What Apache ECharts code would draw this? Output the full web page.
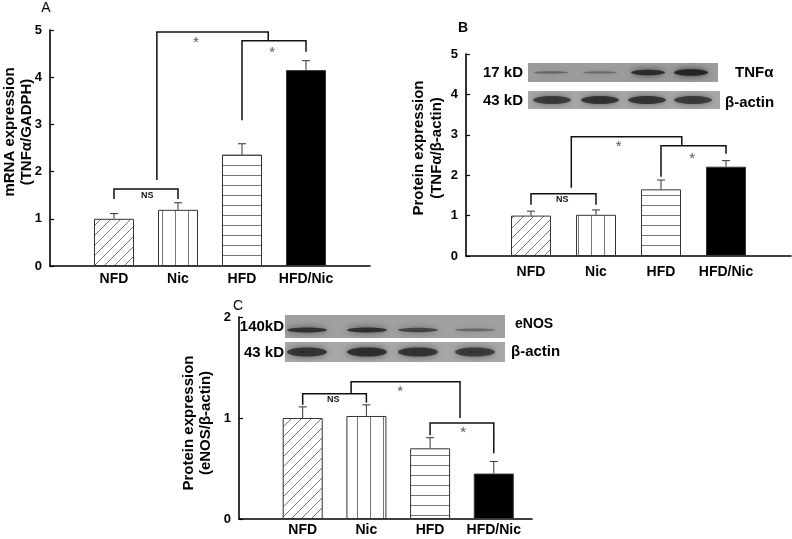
<!DOCTYPE html>
<html>
<head>
<meta charset="utf-8">
<script src="https://cdn.jsdelivr.net/npm/echarts@6/dist/echarts.min.js"></script>
<style>
  html, body { margin: 0; padding: 0; background: #fff; }
  #main { width: 792px; height: 539px; }
</style>
</head>
<body>
<div id="main"></div>
<script>
// groups and values
const groups = ["NFD", "Nic", "HFD", "HFD/Nic"];
const groupPos = [1, 2, 3, 4];

const mrnaTnf = [1.0, 1.19, 2.36, 4.15];
const mrnaTnfErr = [0.11, 0.15, 0.23, 0.2];
const protTnf = [1.0, 1.02, 1.65, 2.21];
const protTnfErr = [0.11, 0.12, 0.23, 0.15];
const protEnos = [1.0, 1.02, 0.7, 0.45];
const protEnosErr = [0.11, 0.11, 0.105, 0.12];

// significance brackets: [xLeft, yLeftEnd, xRight, yRightEnd, yTop]
const bracketsA = [[1, 1.42, 2, 1.42, 1.63], [1.67, 1.82, 3.41, 4.77, 4.96], [3, 3.09, 4, 4.54, 4.77]];
const bracketsB = [[1, 1.27, 2, 1.27, 1.54], [1.62, 1.69, 3.32, 2.73, 2.95], [3, 1.96, 4, 2.53, 2.73]];
const bracketsC = [[1, 1.13, 2, 1.15, 1.24], [1.76, 1.24, 3.47, 1.0, 1.36], [3, 0.83, 4, 0.65, 0.95]];
const notesA = [[1.52, 1.5], [2.28, 4.73], [3.47, 4.52]];
const notesB = [[1.48, 1.39], [2.35, 2.7], [3.48, 2.41]];
const notesC = [[1.48, 1.18], [2.53, 1.26], [3.52, 0.85]];
const noteText = ["NS", "*", "*"];

// western blot band strength per lane (0..1)
const blotTnf = [0.4, 0.35, 0.85, 0.9];
const blotActinB = [0.7, 0.75, 0.75, 0.7];
const blotEnos = [0.8, 0.8, 0.65, 0.4];
const blotActinC = [0.75, 0.8, 0.75, 0.7];

const FONT = "Liberation Sans, Arial, sans-serif";

function hatch(kind) {
  const c = document.createElement("canvas");
  const ctx = c.getContext("2d");
  if (kind === "diag") { c.width = 10; c.height = 10; }
  if (kind === "vert") { c.width = 13; c.height = 4; }
  if (kind === "horz") { c.width = 4; c.height = 10; }
  ctx.fillStyle = "#fff";
  ctx.fillRect(0, 0, c.width, c.height);
  ctx.strokeStyle = "#666";
  ctx.lineWidth = 0.9;
  ctx.beginPath();
  if (kind === "diag") {
    ctx.moveTo(0, 10); ctx.lineTo(10, 0);
    ctx.moveTo(-5, 5); ctx.lineTo(5, -5);
    ctx.moveTo(5, 15); ctx.lineTo(15, 5);
  } else if (kind === "vert") {
    ctx.moveTo(6.5, 0); ctx.lineTo(6.5, 4);
  } else {
    ctx.moveTo(0, 5.5); ctx.lineTo(4, 5.5);
  }
  ctx.stroke();
  return { image: c, repeat: "repeat" };
}
const fills = [hatch("diag"), hatch("vert"), hatch("horz"), "#000"];

function xAxisFor(idx, max, margin) {
  return {
    type: "value", gridIndex: idx, min: 0, max: max,
    splitLine: { show: false },
    axisTick: { show: false },
    axisLine: { show: true, onZero: false, lineStyle: { color: "#000", width: 1.6 } },
    axisLabel: {
      customValues: groupPos,
      formatter: v => groups[Math.round(v) - 1] || "",
      color: "#000", fontWeight: "bold", fontSize: 14, fontFamily: FONT, margin: margin
    }
  };
}
function yAxisFor(idx, max) {
  return {
    type: "value", gridIndex: idx, min: 0, max: max, interval: 1,
    splitLine: { show: false },
    axisLine: { show: true, lineStyle: { color: "#000", width: 1.6 } },
    axisTick: { show: true, inside: true, length: 4, lineStyle: { color: "#000", width: 1.2 } },
    axisLabel: { color: "#000", fontWeight: "bold", fontSize: 13, fontFamily: FONT, margin: 8 }
  };
}

function panelSeries(idx, vals, errs, brackets, notes) {
  return [
    {
      type: "bar", xAxisIndex: idx, yAxisIndex: idx, barWidth: 40, z: 2,
      data: vals.map((v, i) => ({ value: [groupPos[i], v], itemStyle: { color: fills[i] } })),
      itemStyle: { borderColor: "#333", borderWidth: 1 }
    },
    {
      type: "custom", xAxisIndex: idx, yAxisIndex: idx, z: 3,
      data: vals.map((v, i) => [groupPos[i], v, errs[i]]),
      renderItem: (params, api) => {
        const b = api.coord([api.value(0), api.value(1)]);
        const t = api.coord([api.value(0), api.value(1) + api.value(2)]);
        const st = { stroke: "#333", lineWidth: 1 };
        return {
          type: "group", children: [
            { type: "line", shape: { x1: b[0], y1: b[1], x2: t[0], y2: t[1] }, style: st },
            { type: "line", shape: { x1: t[0] - 4, y1: t[1], x2: t[0] + 4, y2: t[1] }, style: st }
          ]
        };
      }
    },
    {
      type: "custom", xAxisIndex: idx, yAxisIndex: idx, z: 4,
      data: brackets,
      renderItem: (params, api) => {
        const pts = [
          api.coord([api.value(0), api.value(1)]),
          api.coord([api.value(0), api.value(4)]),
          api.coord([api.value(2), api.value(4)]),
          api.coord([api.value(2), api.value(3)])
        ];
        return { type: "polyline", shape: { points: pts }, style: { stroke: "#111", lineWidth: 1.5, fill: null } };
      }
    },
    {
      type: "custom", xAxisIndex: idx, yAxisIndex: idx, z: 5,
      data: notes,
      renderItem: (params, api) => {
        const p = api.coord([api.value(0), api.value(1)]);
        const txt = noteText[params.dataIndex];
        const ns = txt === "NS";
        return {
          type: "text", x: p[0], y: p[1],
          style: {
            text: txt, align: "center", verticalAlign: "middle",
            fill: ns ? "#111" : "#555",
            font: (ns ? "bold 9px " : "15px ") + FONT
          }
        };
      }
    }
  ];
}

function blot(x, y, w, h, bg, cx, cy, rx, ry, strength) {
  const kids = [{ type: "rect", shape: { x: x, y: y, width: w, height: h }, style: { fill: bg } }];
  strength.forEach((s, i) => {
    kids.push({
      type: "ellipse",
      shape: { cx: cx[i], cy: cy, rx: rx, ry: ry[i] },
      style: { fill: "rgba(30,30,30," + s + ")", shadowBlur: 6, shadowColor: "rgba(30,30,30," + s + ")" }
    });
  });
  return { type: "group", children: kids };
}
function label(x, y, text, opts) {
  return {
    type: "text", x: x, y: y, rotation: (opts && opts.rot) || 0,
    style: {
      text: text, fill: "#000",
      font: ((opts && opts.font) || "bold 15px ") + FONT,
      align: (opts && opts.align) || "left", verticalAlign: "middle",
      lineHeight: (opts && opts.lh) || 16
    }
  };
}

const chart = echarts.init(document.getElementById("main"), null, { renderer: "canvas" });
chart.setOption({
  backgroundColor: "#fff",
  animation: false,
  grid: [
    { left: 50, top: 30, width: 320, height: 236, outerBoundsMode: "none" },
    { left: 466, top: 54, width: 325, height: 202, outerBoundsMode: "none" },
    { left: 239, top: 317, width: 293, height: 202, outerBoundsMode: "none" }
  ],
  xAxis: [xAxisFor(0, 5, 6), xAxisFor(1, 5, 9), xAxisFor(2, 4.6, 4)],
  yAxis: [yAxisFor(0, 5), yAxisFor(1, 5), yAxisFor(2, 2)],
  series: [].concat(
    panelSeries(0, mrnaTnf, mrnaTnfErr, bracketsA, notesA),
    panelSeries(1, protTnf, protTnfErr, bracketsB, notesB),
    panelSeries(2, protEnos, protEnosErr, bracketsC, notesC)
  ),
  graphic: [
    label(46, 8, "A", { font: "14px ", align: "center" }),
    label(463, 28, "B", { font: "bold 14px ", align: "center" }),
    label(238, 306, "C", { font: "14px ", align: "center" }),
    label(18, 132, "mRNA expression\n(TNFα/GADPH)", { rot: Math.PI / 2, align: "center", lh: 17 }),
    label(428, 148, "Protein expression\n(TNFα/β-actin)", { rot: Math.PI / 2, align: "center", lh: 18 }),
    label(197, 423, "Protein expression\n(eNOS/β-actin)", { rot: Math.PI / 2, align: "center", lh: 17 }),
    // blot B
    blot(528, 63, 190, 19, "#9c9c9c", [551, 600, 648, 691], 72.5, 17, [1.2, 1.2, 2.8, 3.2], blotTnf),
    blot(528, 91, 192, 18, "#a8a8a8", [552, 600, 647, 693], 100, 19, [4, 4, 4, 4], blotActinB),
    label(523, 73, "17 kD", { align: "right" }),
    label(523, 101, "43 kD", { align: "right" }),
    label(735, 73, "TNFα"),
    label(725, 103, "β-actin"),
    // blot C
    blot(285, 315, 220, 23, "#a0a0a0", [307, 367, 418, 475], 330, 20, [2.5, 2.5, 2.2, 1.4], blotEnos),
    blot(285, 342, 220, 20, "#a8a8a8", [307, 367, 418, 475], 352, 20, [4.5, 4.5, 4.5, 4.5], blotActinC),
    label(284, 327, "140kD", { align: "right" }),
    label(284, 353, "43 kD", { align: "right" }),
    label(515, 324, "eNOS", { font: "bold 14px " }),
    label(511, 352, "β-actin")
  ]
});
</script>
</body>
</html>
